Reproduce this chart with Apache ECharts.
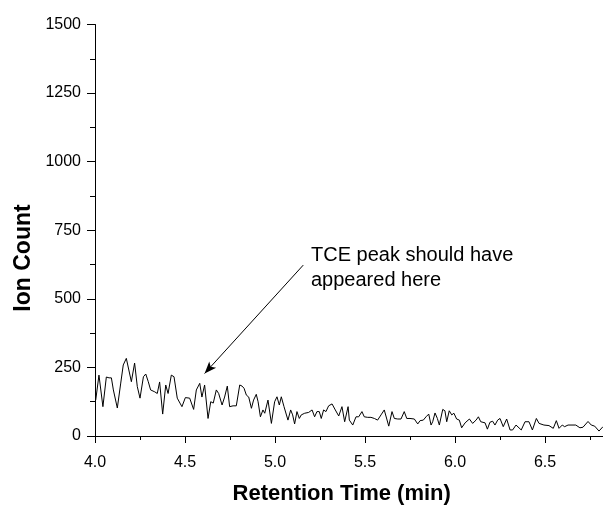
<!DOCTYPE html>
<html>
<head>
<meta charset="utf-8">
<script src="https://cdn.jsdelivr.net/npm/echarts@6/dist/echarts.min.js"></script>
<style>html,body{margin:0;padding:0;background:#fff;}#c{width:603px;height:507px;}</style>
</head>
<body>
<div id="c"></div>
<script>
const times = [4.004,4.022,4.044,4.063,4.078,4.091,4.102,4.124,4.143,4.157,4.174,4.185,4.202,4.220,4.235,4.250,4.269,4.282,4.296,4.309,4.320,4.332,4.346,4.359,4.376,4.393,4.406,4.424,4.439,4.457,4.472,
4.483,4.502,4.526,4.535,4.548,4.563,4.582,4.594,4.609,4.628,4.643,4.657,4.674,4.687,4.706,4.720,4.735,4.748,4.767,4.785,4.804,4.817,4.828,4.841,4.854,4.869,4.881,4.896,4.906,4.919,4.933,
4.943,4.961,4.980,4.998,5.011,5.024,5.035,5.050,5.072,5.087,5.098,5.109,5.122,5.135,5.146,5.165,5.187,5.206,5.220,5.233,5.246,5.257,5.270,5.283,5.298,5.317,5.335,5.354,5.372,5.387,5.406,
5.413,5.432,5.450,5.465,5.483,5.496,5.515,5.533,5.552,5.570,5.589,5.607,5.617,5.632,5.650,5.663,5.682,5.700,5.718,5.732,5.750,5.774,5.793,5.806,5.824,5.839,5.854,5.867,
5.876,5.889,5.902,5.913,5.932,5.944,5.954,5.968,5.982,5.994,6.009,6.024,6.037,6.056,6.080,6.098,6.117,6.130,6.143,6.154,6.167,6.180,6.194,6.209,6.222,6.237,6.250,6.268,6.287,6.306,6.320,6.339,
6.346,6.368,6.389,6.411,6.430,6.452,6.467,6.494,6.522,6.546,6.563,6.578,6.596,6.609,6.628,6.671,6.694,6.711,6.739,6.757,6.776,6.800,6.822];
const ionCounts = [131,222,107,215,212,212,168,102,193,259,283,283,198,266,180,138,216,226,198,168,168,161,155,197,80,186,155,222,216,138,120,
107,140,138,142,97,168,192,142,186,64,125,120,168,155,113,142,182,107,110,110,186,182,174,149,142,101,131,152,125,70,95,
83,131,46,125,143,113,143,107,58,95,77,44,89,64,77,83,86,95,70,89,89,64,95,89,110,117,95,73,107,52,107,
58,40,70,70,89,70,68,68,64,58,77,95,101,36,89,64,62,62,89,64,64,62,44,56,58,70,80,40,
52,84,64,40,97,92,52,92,77,83,62,58,30,48,62,46,58,70,52,54,48,25,50,54,40,58,64,34,62,22,22,40,
46,22,52,52,22,64,46,40,38,28,56,28,40,34,40,40,30,32,53,40,36,18,34];
const yMajorTicks = [0,250,500,750,1000,1250,1500];
const yMinorTicks = [125,375,625,875,1125,1375];
const arrowFrom = [5.157, 623];
const arrowTo = [4.609, 228];
const annotationText = 'TCE peak should have\nappeared here';
const xTitle = 'Retention Time (min)';
const yTitle = 'Ion Count';

const FONT = '"Liberation Sans", Arial, sans-serif';
const chart = echarts.init(document.getElementById('c'), null, {renderer:'canvas'});
const gridBox = {left:95, top:24.5, width:540, height:417, containLabel:false, outerBoundsMode:'none'};
chart.setOption({
  animation:false,
  backgroundColor:'#fff',
  grid:[Object.assign({}, gridBox), Object.assign({}, gridBox)],
  xAxis:[{
    type:'value', gridIndex:0, min:4, max:7, interval:0.5,
    axisLine:{show:true, lineStyle:{color:'#000', width:1}},
    axisTick:{show:true, inside:false, length:7, lineStyle:{color:'#000', width:1}},
    minorTick:{show:true, splitNumber:2, length:4, lineStyle:{color:'#000', width:1}},
    splitLine:{show:false},
    axisLabel:{color:'#000', fontSize:16, fontFamily:FONT, margin:13, formatter:v=>v.toFixed(1)}
  },{
    type:'value', gridIndex:1, min:4, max:7, show:false
  }],
  yAxis:[{
    type:'value', gridIndex:0, min:-20, max:1500,
    axisLine:{show:true, lineStyle:{color:'#000', width:1}},
    axisTick:{show:true, inside:false, length:8, customValues:yMajorTicks, lineStyle:{color:'#000', width:1}},
    splitLine:{show:false},
    axisLabel:{color:'#000', fontSize:16, fontFamily:FONT, margin:14, customValues:yMajorTicks, formatter:v=>String(v)}
  },{
    type:'value', gridIndex:1, min:-20, max:1500,
    axisLine:{show:false},
    axisTick:{show:true, inside:false, length:5, customValues:yMinorTicks, lineStyle:{color:'#000', width:1}},
    splitLine:{show:false},
    axisLabel:{show:false}
  }],
  series:[{
    type:'line', xAxisIndex:0, yAxisIndex:0,
    data: times.map((t,i)=>[t, ionCounts[i]]),
    showSymbol:false, symbol:'none',
    lineStyle:{color:'#000', width:1},
    clip:true,
    markLine:{
      silent:true, animation:false,
      symbol:['none','arrow'], symbolSize:[7,12],
      lineStyle:{color:'#000', width:1, type:'solid'},
      label:{show:false},
      data:[[{coord:arrowFrom},{coord:arrowTo}]]
    }
  }],
  graphic:[
    {type:'text', left:311, top:243, style:{text:annotationText, font:'20px '+FONT, lineHeight:25, fill:'#000'}},
    {type:'text', x:341.7, y:494, style:{text:xTitle, font:'bold 22px '+FONT, fill:'#000', textAlign:'center', textVerticalAlign:'middle'}},
    {type:'text', x:24, y:258, rotation:Math.PI/2, style:{text:yTitle, font:'bold 23px '+FONT, fill:'#000', textAlign:'center', textVerticalAlign:'middle'}}
  ]
});
</script>
</body>
</html>
